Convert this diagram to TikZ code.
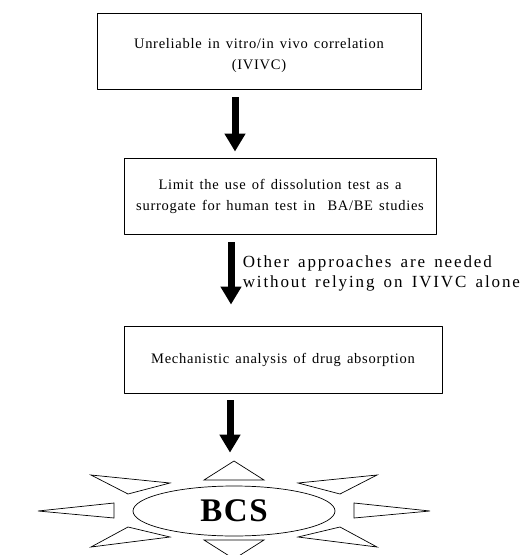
\documentclass[tikz,border=0pt]{standalone}
\usepackage{fontspec}
\setmainfont{Liberation Serif}[LetterSpace=5,WordSpace=1.4]
\newfontfamily\notefont{Liberation Serif}[LetterSpace=11,WordSpace=1.5]
\usetikzlibrary{arrows.meta,shapes.geometric}
\tikzset{>=latex}
\tikzset{
    flowbox/.style={draw, line width=0.9pt, inner sep=0pt, align=center,
        font=\fontsize{14.5}{21}\selectfont},
    bigarrow/.style={line width=7pt, -{Triangle[width=20pt,length=18pt]}},
    ray/.style={draw, line width=0.7pt, line join=miter},
}

\begin{document}
\begin{tikzpicture}[x=1pt, y=-1pt, line join = round]
    \useasboundingbox (0,0) rectangle (530,555);
    \node[flowbox, minimum width=324pt, minimum height=76pt] (box1) at (259,51)
        {\rule{0pt}{20pt}Unreliable in vitro/in vivo correlation\\(IVIVC)};
    \node[flowbox, minimum width=312pt, minimum height=76pt] (box2) at (280,196)
        {Limit the use of dissolution test as a\\surrogate for human test in\ \ BA/BE studies};
    \node[flowbox, minimum width=318pt, minimum height=67pt] (box3) at (283,359.5)
        {Mechanistic analysis of drug absorption};
    \node[draw, ellipse, line width=0.7pt, minimum width=202pt, minimum height=50pt,
        inner sep=0pt, font=\fontsize{33}{33}\selectfont\bfseries] (bcs) at (234,511) {BCS};
    % arrow columns
    \coordinate (col1) at (235,0);
    \coordinate (col2) at (231,0);
    \coordinate (col3) at (230,0);
    \draw[bigarrow] ([yshift=-8pt]box1.south -| col1) -- ([yshift=6pt]box2.north -| col1);
    \draw[bigarrow] ([yshift=-8pt]box2.south -| col2) -- ([yshift=21pt]box3.north -| col2)
        node[pos=0.5, anchor=west, xshift=5pt, align=left,
            font=\notefont\fontsize{17}{20}\selectfont] (note)
        {Other approaches are needed\\without relying on IVIVC alone};
    \draw[bigarrow] ([yshift=-7pt]box3.south -| col3) -- ([yshift=33pt]bcs.north -| col3);
    % rays round the ellipse
    \begin{scope}[shift={(bcs.center)}]
        \draw[ray] (-30,-31) -- (30,-31) -- (0,-50) -- cycle;
        \draw[ray] (-30,29) -- (30,29) -- (0,48) -- cycle;
        \foreach \s in {1,-1}{
            \begin{scope}[xscale=\s]
                \draw[ray] (120,-8) -- (120,7) -- (196,0) -- cycle;
                \draw[ray] (64,-28) -- (106,-17) -- (143,-36) -- cycle;
                \draw[ray] (64,26) -- (106,16) -- (143,36) -- cycle;
            \end{scope}
        }
    \end{scope}
\end{tikzpicture}
\end{document}
